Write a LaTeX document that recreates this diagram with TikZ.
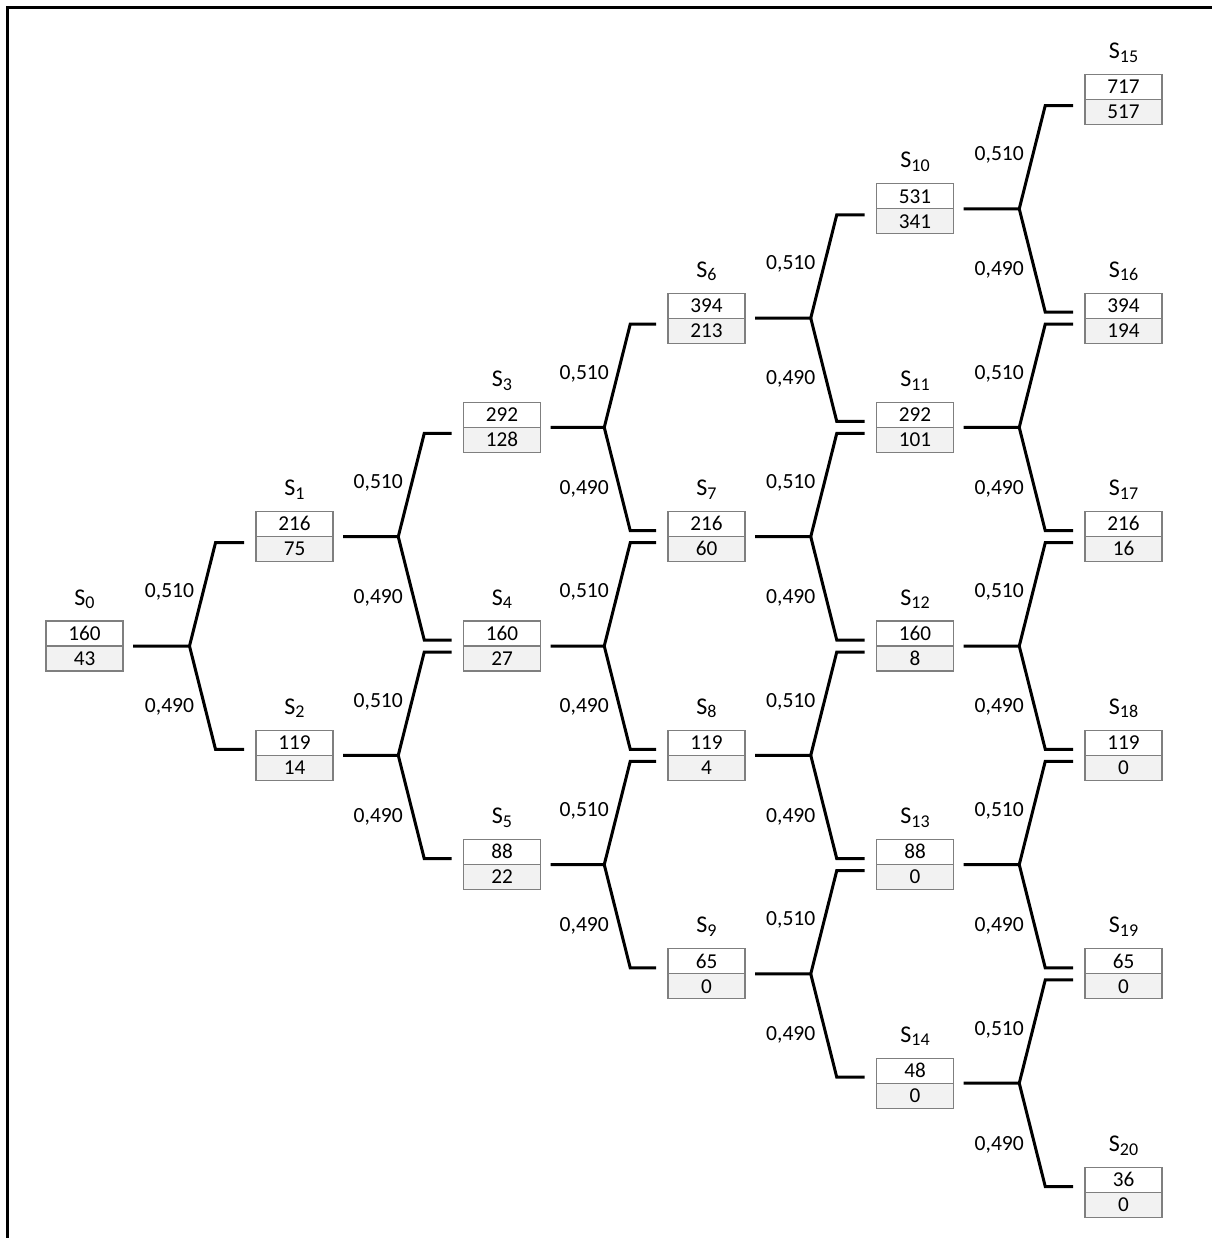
\documentclass[tikz,border=0pt]{standalone}
\usepackage{fontspec}
\setmainfont{Carlito}
\usetikzlibrary{calc}
\definecolor{rowgrey}{HTML}{F2F2F2}
\definecolor{boxgrey}{HTML}{7F7F7F}
\tikzset{
  boxst/.style={minimum width=38.5pt, minimum height=25pt, inner sep=0pt, outer sep=0pt},
  boxline/.style={draw=boxgrey, line width=0.55pt},
  numtxt/.style={inner sep=0pt, font=\fontsize{10.6}{12}\selectfont},
  stlabel/.style={inner sep=0pt, font=\fontsize{12}{14}\selectfont},
  problabel/.style={inner sep=0pt, font=\fontsize{10.8}{12}\selectfont},
  conn/.style={line width=1.5pt, line join=miter, black},
  frameline/.style={line width=1.1pt, black}
}
\newcommand{\stsub}[1]{\raisebox{-1.8pt}{\fontsize{9}{10}\selectfont #1}}
\newcommand{\stnode}[6]{%
  \node[boxst] (#1) at (#2,#3) {};
  \fill[rowgrey] (#1.west) rectangle (#1.south east);
  \draw[boxline] (#1.north west) rectangle (#1.south east);
  \draw[boxline] (#1.west) -- (#1.east);
  \node[numtxt, anchor=base] (#1top) at ($(#1.center)+(0,-5.8)$) {#5};
  \node[numtxt, anchor=base] (#1bot) at ($(#1.center)+(0,19.2)$) {#6};
  \node[stlabel, anchor=base] (#1lab) at ($(#1.north)+(0,-16)$) {S\stsub{#4}};
}
\newcommand{\conn}[3]{%
  \coordinate (J) at ($(#1.center)!0.5!(#2.center |- #1.center)$);
  \coordinate (Eu) at ($(#2.west)+(-12,6)$);
  \coordinate (Ed) at ($(#3.west)+(-12,-6)$);
  \draw[conn] ($(#1.east)+(10,0)$) -- (J) -- ($(Eu -| J)+(26,0)$) -- (Eu);
  \draw[conn] (J) -- ($(Ed -| J)+(26,0)$) -- (Ed);
  \node[problabel, anchor=base east] at ($(J)+(5,-48.2)$) {0,510};
  \node[problabel, anchor=base east] at ($(J)+(5,66.8)$) {0,490};
}
\begin{document}
\begin{tikzpicture}[x=0.5pt, y=-0.5pt]
\useasboundingbox (0,0) rectangle (1212,1238);
\draw[frameline] (7.5,1238) -- (7.5,7.5) -- (1212,7.5);
% level 0
\stnode{S0}{84.5}{646}{0}{160}{43}
% level 1
\stnode{S1}{294.5}{536.7}{1}{216}{75}
\stnode{S2}{294.5}{755.3}{2}{119}{14}
% level 2
\stnode{S3}{502}{427.4}{3}{292}{128}
\stnode{S4}{502}{646}{4}{160}{27}
\stnode{S5}{502}{864.6}{5}{88}{22}
% level 3
\stnode{S6}{706.5}{318.1}{6}{394}{213}
\stnode{S7}{706.5}{536.7}{7}{216}{60}
\stnode{S8}{706.5}{755.3}{8}{119}{4}
\stnode{S9}{706.5}{973.9}{9}{65}{0}
% level 4
\stnode{S10}{915}{208.8}{10}{531}{341}
\stnode{S11}{915}{427.4}{11}{292}{101}
\stnode{S12}{915}{646}{12}{160}{8}
\stnode{S13}{915}{864.6}{13}{88}{0}
\stnode{S14}{915}{1083.2}{14}{48}{0}
% level 5
\stnode{S15}{1123.5}{99.5}{15}{717}{517}
\stnode{S16}{1123.5}{318.1}{16}{394}{194}
\stnode{S17}{1123.5}{536.7}{17}{216}{16}
\stnode{S18}{1123.5}{755.3}{18}{119}{0}
\stnode{S19}{1123.5}{973.9}{19}{65}{0}
\stnode{S20}{1123.5}{1192.5}{20}{36}{0}
% connectors
\conn{S0}{S1}{S2}
\conn{S1}{S3}{S4}
\conn{S2}{S4}{S5}
\conn{S3}{S6}{S7}
\conn{S4}{S7}{S8}
\conn{S5}{S8}{S9}
\conn{S6}{S10}{S11}
\conn{S7}{S11}{S12}
\conn{S8}{S12}{S13}
\conn{S9}{S13}{S14}
\conn{S10}{S15}{S16}
\conn{S11}{S16}{S17}
\conn{S12}{S17}{S18}
\conn{S13}{S18}{S19}
\conn{S14}{S19}{S20}
\end{tikzpicture}
\end{document}
